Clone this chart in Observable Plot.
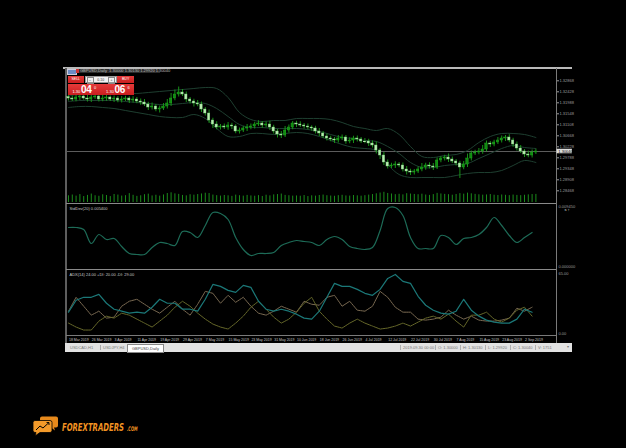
<!DOCTYPE html>
<html><head><meta charset="utf-8">
<script src="https://cdn.jsdelivr.net/npm/d3@7"></script>
<script src="https://cdn.jsdelivr.net/npm/@observablehq/plot@0.6"></script>
<style>
html,body{margin:0;padding:0;background:#000;}
#c{position:relative;width:626px;height:448px;background:#000;overflow:hidden;font-family:"Liberation Sans",Arial,sans-serif;}
#c svg{overflow:visible}
.a{position:absolute;white-space:nowrap;}
</style></head><body><div id="c"></div>
<script>
// ---------- DATA ----------
const symbol = "GBPUSD,Daily";
const firstOpen = 1.3222;
const closes = [
1.3216,1.3212,1.3220,1.3224,1.3216,1.3212,1.3220,1.3224,1.3212,1.3216,
1.3220,1.3212,1.3216,1.3208,1.3212,1.3216,1.3208,1.3212,1.3204,1.3200,
1.3192,1.3180,1.3184,1.3172,1.3176,1.3184,1.3196,1.3216,1.3232,1.3240,
1.3232,1.3212,1.3204,1.3196,1.3192,1.3172,1.3156,1.3128,1.3112,1.3100,
1.3104,1.3100,1.3108,1.3104,1.3084,1.3088,1.3096,1.3100,1.3104,1.3112,
1.3116,1.3108,1.3112,1.3100,1.3084,1.3072,1.3068,1.3088,1.3100,1.3116,
1.3112,1.3108,1.3104,1.3100,1.3096,1.3084,1.3076,1.3064,1.3056,1.3052,
1.3048,1.3056,1.3060,1.3044,1.3048,1.3056,1.3052,1.3044,1.3044,1.3036,
1.3028,1.3008,1.2988,1.2960,1.2944,1.2948,1.2952,1.2948,1.2932,1.2924,
1.2920,1.2924,1.2932,1.2940,1.2948,1.2944,1.2940,1.2968,1.2976,1.2980,
1.2972,1.2964,1.2956,1.2940,1.2952,1.2976,1.2996,1.3000,1.3004,1.3012,
1.3036,1.3032,1.3040,1.3048,1.3056,1.3060,1.3048,1.3032,1.3016,1.3004,
1.2992,1.2988,1.3000,1.3004];
const wickHiPips = [
8,10,12,6,9,14,8,10,7,12, 9,6,10,8,12,9,7,11,8,10, 12,9,14,8,10,12,16,20,18,22,
12,10,8,9,12,10,8,14,9,11, 8,10,12,9,7,10,8,12,10,9, 11,8,10,13,9,8,12,16,10,8,
9,11,8,10,7,9,12,8,10,9, 8,12,10,8,11,9,10,8,12,9, 10,14,8,12,10,9,11,8,10,12,
9,8,10,16,9,11,12,10,8,9, 14,10,8,9,12,18,10,9,12,16, 10,8,9,12,10,8,11,9,10,12,
8,14,10,9];
const wickLoPips = [
10,8,9,12,7,10,12,8,10,9, 11,8,12,9,10,8,12,10,9,11, 8,12,10,9,14,8,10,12,9,10,
8,12,10,14,9,12,10,12,16,9, 10,8,11,12,9,10,8,12,9,10, 8,11,9,12,10,14,12,8,10,9,
12,8,10,9,11,10,12,8,10,9, 12,10,8,11,9,12,10,8,9,12, 10,14,16,12,10,8,12,9,10,14,
12,10,8,9,11,10,12,8,9,10, 12,8,10,44,9,12,10,8,9,11, 10,12,9,8,10,12,9,11,10,8,
12,9,10,8];
const volumes = [
1450,1620,1380,1710,1290,1540,1830,1460,1350,1670, 1520,1280,1740,1610,1390,1480,1920,1560,1330,1450,
1690,1810,1420,1570,1380,1640,1950,2100,1870,1760, 1530,1440,1680,1590,1720,1850,2010,1940,1610,1480,
1390,1520,1450,1330,1600,1470,1380,1540,1420,1360, 1490,1310,1580,1440,1650,1720,1830,1540,1470,1380,
1420,1360,1510,1290,1450,1380,1520,1610,1470,1400, 1350,1480,1560,1420,1390,1510,1440,1370,1480,1600,
1720,1890,2050,2210,1960,1840,1700,1780,1650,1910, 1830,1750,1680,1800,1620,1540,1710,1980,1850,1760,
1690,1580,1740,1920,1810,2030,1880,1760,1670,1590, 1640,1720,1580,1510,1630,1560,1490,1610,1540,1480,
1570,1650,1720,1751];
// Bollinger bands, read every 3rd bar
const bbUpper = [1.3228,1.3232,1.3236,1.3240,1.3240,1.3236,1.3236,1.3240,1.3244,1.3248,
1.3252,1.3256,1.3260,1.3256,1.3220,1.3160,1.3132,1.3124,1.3128,1.3128,
1.3136,1.3136,1.3136,1.3132,1.3120,1.3104,1.3096,1.3088,1.3096,1.3072,
1.3024,1.2984,1.2980,1.2988,1.2992,1.3008,1.3040,1.3064,1.3076,1.3076,1.3072,1.3060];
const bbMiddle = [1.3204,1.3208,1.3208,1.3208,1.3208,1.3204,1.3200,1.3196,1.3192,1.3192,
1.3196,1.3200,1.3196,1.3176,1.3144,1.3112,1.3100,1.3100,1.3096,1.3096,
1.3096,1.3092,1.3084,1.3072,1.3060,1.3056,1.3048,1.3044,1.3024,1.2996,
1.2960,1.2940,1.2940,1.2948,1.2952,1.2956,1.2976,1.2996,1.3016,1.3028,1.3020,1.3016];
const bbLower = [1.3180,1.3184,1.3184,1.3180,1.3176,1.3168,1.3160,1.3152,1.3144,1.3140,
1.3140,1.3152,1.3136,1.3096,1.3064,1.3064,1.3076,1.3076,1.3072,1.3076,
1.3080,1.3076,1.3064,1.3048,1.3032,1.3020,1.3016,1.3008,1.2952,1.2912,
1.2900,1.2900,1.2900,1.2900,1.2908,1.2916,1.2920,1.2920,1.2928,1.2948,1.2968,1.2960];
// indicator panes, read every 2nd bar
const stdDev = [0.00615,0.00615,0.00585,0.00375,0.00510,0.00435,0.00450,0.00330,0.00225,0.00210,
0.00210,0.00315,0.00390,0.00375,0.00345,0.00555,0.00540,0.00465,0.00645,0.00840,
0.00825,0.00735,0.00465,0.00285,0.00195,0.00225,0.00225,0.00240,0.00345,0.00390,
0.00420,0.00405,0.00390,0.00345,0.00435,0.00480,0.00435,0.00330,0.00300,0.00285,
0.00315,0.00570,0.00900,0.00915,0.00795,0.00465,0.00300,0.00300,0.00300,0.00495,
0.00465,0.00360,0.00450,0.00465,0.00510,0.00615,0.00765,0.00645,0.00495,0.00390,
0.00465,0.00540];
const adx = [24,36,39,39,42,33,27,25,23,24, 23,29,37,33,33,27,27,25,37,52,
50,46,44,51,49,35,27,25,27,25, 22,18,17,25,39,53,50,50,47,43,
41,47,58,62,55,53,40,31,26,23, 22,25,37,26,20,16,14,13,13,17, 27,24];
const plusDI = [13,9,6,6,15,20,18,23,21,17, 13,9,15,21,29,35,30,23,17,12,
9,7,13,20,29,35,27,19,13,17, 24,33,39,25,17,10,8,13,17,13,
10,7,8,10,13,10,14,18,20,17, 22,15,9,21,21,24,17,14,18,26, 29,20];
const minusDI = [25,39,30,21,25,18,19,30,35,37, 32,27,23,29,35,27,21,32,45,43,
33,41,34,39,30,23,21,25,30,27, 24,35,32,31,39,41,30,35,26,25,
30,45,39,29,24,24,17,16,17,19, 26,21,17,20,16,15,15,16,18,28, 25,29];
const priceTicks = [1.32868,1.32428,1.31988,1.31548,1.31108,1.30668,1.30228,1.29788,1.29348,1.28908,1.28468];
const dateLabels = ["18 Mar 2019","26 Mar 2019","3 Apr 2019","11 Apr 2019","19 Apr 2019","29 Apr 2019","7 May 2019","15 May 2019","23 May 2019","31 May 2019","10 Jun 2019","18 Jun 2019","26 Jun 2019","4 Jul 2019","12 Jul 2019","22 Jul 2019","30 Jul 2019","7 Aug 2019","15 Aug 2019","23 Aug 2019","2 Sep 2019"];
const tabs = ["USDCAD,H1","USDJPY,H4","GBPUSD,Daily"];
const spreadPips = 2.6;
const brandName = "FOREXTRADERS";
const brandTld = ".COM";

// ---------- checks ----------
const N = closes.length;
[["wickHi",wickHiPips],["wickLo",wickLoPips],["vol",volumes]].forEach(([n,a])=>{ if(a.length!==N) throw new Error(n+" length "+a.length+" != "+N); });
[["bbU",bbUpper],["bbM",bbMiddle],["bbL",bbLower]].forEach(([n,a])=>{ if(a.length!==42) throw new Error(n+" length "+a.length); });
[["std",stdDev],["adx",adx],["pdi",plusDI],["mdi",minusDI]].forEach(([n,a])=>{ if(a.length!==62) throw new Error(n+" length "+a.length); });

// ---------- derived tables ----------
const bars = closes.map((c,i)=>{
  const o = i===0 ? firstOpen : closes[i-1];
  return {i, o, c, h: Math.max(o,c)+wickHiPips[i]*1e-4, l: Math.min(o,c)-wickLoPips[i]*1e-4, up: c>o, doji: c===o};
});
const bandRows = bbUpper.map((u,j)=>({i:j*3, u, m:bbMiddle[j], l:bbLower[j]}));
const indRows = stdDev.map((s,k)=>({i:k*2, s, adx:adx[k], p:plusDI[k], m:minusDI[k]}));
const last = bars[N-1];
const lastClose = last.c;

const c = document.getElementById("c");
const FONT = "Liberation Sans, Arial, sans-serif";
const xDomain = [-0.26, 128.42];
function place(el, left, top){ el.style.position="absolute"; el.style.left=left+"px"; el.style.top=top+"px"; c.appendChild(el); return el; }
function div(left, top, w, h, css, html){ const d=document.createElement("div"); d.className="a"; d.style.cssText=`left:${left}px;top:${top}px;width:${w}px;height:${h}px;`+(css||""); d.innerHTML=html||""; c.appendChild(d); return d; }
function pane(top, height, yDomain, marks){
  const p = Plot.plot({width:505, height, marginTop:0, marginBottom:0, marginLeft:0, marginRight:16,
    x:{domain:xDomain, axis:null}, y:{domain:yDomain, axis:null},
    style:{background:"transparent", overflow:"visible", fontFamily:FONT}, marks});
  return place(p, 67, top);
}
const axisGray = "#9c9c9c";

// ---------- window chrome ----------
div(63, 66.5, 509, 2, "background:#b9b9b9");
div(65, 68, 1.5, 284, "background:#5e5e5e");
div(555.5, 68, 1, 275, "background:#7a7a7a");
div(66, 202.8, 490, 1.6, "background:#8a8a8a");
div(66, 268.6, 490, 1.6, "background:#8a8a8a");
div(66, 335.2, 490, 1, "background:#7a7a7a");

// ---------- main price pane ----------
pane(69, 134, [1.2796, 1.3332], [
  Plot.ruleY([lastClose], {stroke:"#5c5c5c", strokeWidth:1}),
  Plot.line(bandRows, {x:"i", y:"u", stroke:"#1e3f30", strokeWidth:1, curve:"catmull-rom"}),
  Plot.line(bandRows, {x:"i", y:"m", stroke:"#1e3f30", strokeWidth:1, curve:"catmull-rom"}),
  Plot.line(bandRows, {x:"i", y:"l", stroke:"#1e3f30", strokeWidth:1, curve:"catmull-rom"}),
  Plot.ruleX(bars, {x:"i", y1:"l", y2:"h", stroke:"#18a018", strokeWidth:0.9}),
  Plot.rect(bars.filter(d=>!d.doji), {x1:d=>d.i-0.32, x2:d=>d.i+0.32, y1:"o", y2:"c",
    fill:d=>d.up ? "#118a11" : "#b8ecb0", stroke:d=>d.up ? "#20b020" : "#80d080", strokeWidth:0.4}),
  Plot.ruleY(bars.filter(d=>d.doji), {y:"c", x1:d=>d.i-0.35, x2:d=>d.i+0.35, stroke:"#b8ecb0"}),
  Plot.axisY(priceTicks, {anchor:"right", tickSize:2, tickPadding:1, fontSize:4, tickFormat:d=>d.toFixed(5), color:axisGray}),
  Plot.rect([lastClose], {x1:128.55, x2:132.6, y1:d=>d-0.0009, y2:d=>d+0.0009, fill:"#dcdcdc"}),
  Plot.text([lastClose], {x:128.9, y:d=>d, text:d=>d.toFixed(5), textAnchor:"start", fontSize:4, fill:"#000"})
]);
// volumes
pane(190, 12, [0, 2600], [
  Plot.ruleX(volumes, {x:(d,i)=>i, y1:0, y2:d=>d, stroke:"#1b8a1b", strokeWidth:1})
]);

// ---------- StdDev pane ----------
pane(205, 63, [0, 0.00945], [
  Plot.line(indRows, {x:"i", y:"s", stroke:"#1d6b57", strokeWidth:1.2, curve:"catmull-rom"}),
  Plot.text([`StdDev(20) ${stdDev[stdDev.length-1].toFixed(6)}`], {frameAnchor:"top-left", text:d=>d, dx:2, dy:2, fontSize:4, fill:"#c8c8c8"}),
  Plot.axisY([0.00945], {anchor:"right", tickSize:0, tickPadding:2, fontSize:4, tickFormat:d=>d.toFixed(6), color:axisGray, dy:1}),
  Plot.axisY([0], {anchor:"right", tickSize:0, tickPadding:2, fontSize:4, tickFormat:d=>d.toFixed(6), color:axisGray, dy:-2})
]);

// ---------- ADX pane ----------
pane(270.5, 64.5, [0, 65], [
  Plot.line(indRows, {x:"i", y:"m", stroke:"#7a6a52", strokeWidth:1, strokeDasharray:"1.6,0.8"}),
  Plot.line(indRows, {x:"i", y:"p", stroke:"#66682a", strokeWidth:1, strokeDasharray:"1.6,0.8"}),
  Plot.line(indRows, {x:"i", y:"adx", stroke:"#1b7878", strokeWidth:1.2}),
  Plot.text([`ADX(14) ${adx[adx.length-1].toFixed(2)} +DI: ${plusDI[plusDI.length-1].toFixed(2)} -DI: ${minusDI[minusDI.length-1].toFixed(2)}`], {frameAnchor:"top-left", text:d=>d, dx:2, dy:2, fontSize:4, fill:"#c8c8c8"}),
  Plot.axisY([65], {anchor:"right", tickSize:0, tickPadding:2, fontSize:4, tickFormat:d=>d.toFixed(2), color:axisGray, dy:2.2}),
  Plot.axisY([0], {anchor:"right", tickSize:0, tickPadding:2, fontSize:4, tickFormat:d=>d.toFixed(2), color:axisGray, dy:-2})
]);

// ---------- date axis ----------
pane(336, 6.5, [0,1], [
  Plot.text(dateLabels, {x:(d,i)=>i*6, frameAnchor:"middle", text:d=>d, textAnchor:"start", dx:0.5, fontSize:3.5, fill:"#c0c0c0"})
]);

// ---------- title & one-click trading panel ----------
div(67, 69.3, 8, 4, "background:#6c8cc4;border:0.5px solid #ccd");
div(75.5, 69.3, 3, 4, "background:#c33");
div(79, 69.3, 80, 4.2, "background:#2c2c2c;color:#bdbdbd;font-size:4px;line-height:4.2px;padding-left:1px",
  `${symbol}&nbsp;&nbsp;${last.o.toFixed(5)} ${last.h.toFixed(5)} ${last.l.toFixed(5)} ${last.c.toFixed(5)}`);
const bid = lastClose.toFixed(5), ask = (lastClose + spreadPips*1e-4).toFixed(5);
const red = "background:linear-gradient(#e53a3a,#c81f1f);color:#fff;";
div(67.5, 75.8, 16.5, 7.3, red+"font-size:3.5px;line-height:7.3px;text-align:center", "SELL");
div(84.5, 75.8, 32.5, 7.3, "background:#f2f2f2;border:0.5px solid #999;box-sizing:border-box;color:#333;font-size:3.5px;line-height:6.3px;text-align:center",
  `<span style="position:absolute;left:1px;top:0.6px;width:5px;height:5px;border:0.4px solid #888;line-height:5px">–</span>${"0.10"}<span style="position:absolute;right:1px;top:0.6px;width:5px;height:5px;border:0.4px solid #888;line-height:5px">+</span>`);
div(117.3, 75.8, 16.7, 7.3, red+"font-size:3.5px;line-height:7.3px;text-align:center", "BUY");
function priceBox(left, s){
  return div(left, 83.6, 33, 11.6, red,
    `<span class="a" style="left:5px;top:5.5px;font-size:4px">${s.slice(0,4)}</span>`+
    `<span class="a" style="left:13.5px;top:0.8px;font-size:10px;font-weight:bold;letter-spacing:-0.3px">${s.slice(4,6)}</span>`+
    `<span class="a" style="left:26.5px;top:1.5px;font-size:4px">${s.slice(6)}</span>`);
}
priceBox(67.5, bid);
div(100.5, 83.6, 0.6, 11.6, "background:#9a1515");
priceBox(101.1, ask);

// ---------- tab / status bar ----------
const bar = div(65, 343, 507, 9, "background:#e2e2e2;font-size:4px;color:#7a7a7a;");
const tabX = [5, 38, 62];
tabs.forEach((t,i)=>{
  const active = i===tabs.length-1;
  const s = document.createElement("span"); s.className="a"; s.textContent=t;
  s.style.cssText = `left:${tabX[i]}px;top:${active?0.5:2}px;${active?"background:#fff;border:0.6px solid #888;padding:1px 4px;color:#444;":""}`;
  bar.appendChild(s);
  if(!active){ const sep=document.createElement("span"); sep.className="a"; sep.style.cssText=`left:${tabX[i]+30}px;top:1.5px;width:0.5px;height:5px;background:#aaa`; bar.appendChild(sep);}
});
const status = ["2019.09.30 00:00", `O: ${last.o.toFixed(5)}`, `H: ${last.h.toFixed(5)}`, `L: ${last.l.toFixed(5)}`, `C: ${last.c.toFixed(5)}`, `V: ${volumes[N-1]}`];
const stX = [338, 373, 398, 423, 448, 473];
status.forEach((t,i)=>{
  const s=document.createElement("span"); s.className="a"; s.textContent=t; s.style.cssText=`left:${stX[i]}px;top:2px;color:#777`; bar.appendChild(s);
  const sep=document.createElement("span"); sep.className="a"; sep.style.cssText=`left:${stX[i]-3}px;top:1.5px;width:0.5px;height:5.5px;background:#b0b0b0`; bar.appendChild(sep);
});
const arr=document.createElement("span"); arr.className="a"; arr.textContent="▾"; arr.style.cssText="left:502px;top:1px;color:#777;font-size:4px"; bar.appendChild(arr);

// ---------- logo ----------
const ns="http://www.w3.org/2000/svg";
const logo=document.createElementNS(ns,"svg");
logo.setAttribute("width","160"); logo.setAttribute("height","40");
logo.innerHTML = `
 <path d="M42,416.5 h14 a2,2 0 0 1 2,2 v7 a2,2 0 0 1 -2,2 h-2 l1,3 -4,-3 h-9 a2,2 0 0 1 -2,-2 v-7 a2,2 0 0 1 2,-2z" transform="translate(0,-400)" fill="#e88a1c"/>
 <path d="M35,420.5 h15 a2,2 0 0 1 2,2 v8 a2,2 0 0 1 -2,2 h-10 l-5,3.5 1,-3.5 h-1 a2,2 0 0 1 -2,-2 v-8 a2,2 0 0 1 2,-2z" transform="translate(0,-400)" fill="#f39a2a" stroke="#000" stroke-width="0.8"/>
 <polyline points="36,430 40,426 43,428 49,422.5" transform="translate(0,-400)" fill="none" stroke="#000" stroke-width="1"/>
 <polyline points="46.5,422.5 49,422.5 49,425" transform="translate(0,-400)" fill="none" stroke="#000" stroke-width="0.9"/>
 <text id="bn" font-family="DejaVu Sans Condensed, DejaVu Sans" font-weight="bold" font-style="italic" font-size="11" fill="#f39322">${brandName}</text>
 <text id="bt" font-family="DejaVu Sans Condensed, DejaVu Sans" font-weight="bold" font-style="italic" font-size="6.3" fill="#f39322">${brandTld}</text>`;
place(logo, 0, 400);
function fitText(id, x, y, w){
  const t = logo.querySelector("#"+id);
  const len = t.getComputedTextLength() || w;
  t.setAttribute("transform", `translate(${x},${y}) scale(${w/len},1)`);
}
fitText("bn", 62, 30.5, 62);
fitText("bt", 127, 30.5, 10.5);
</script></body></html>
